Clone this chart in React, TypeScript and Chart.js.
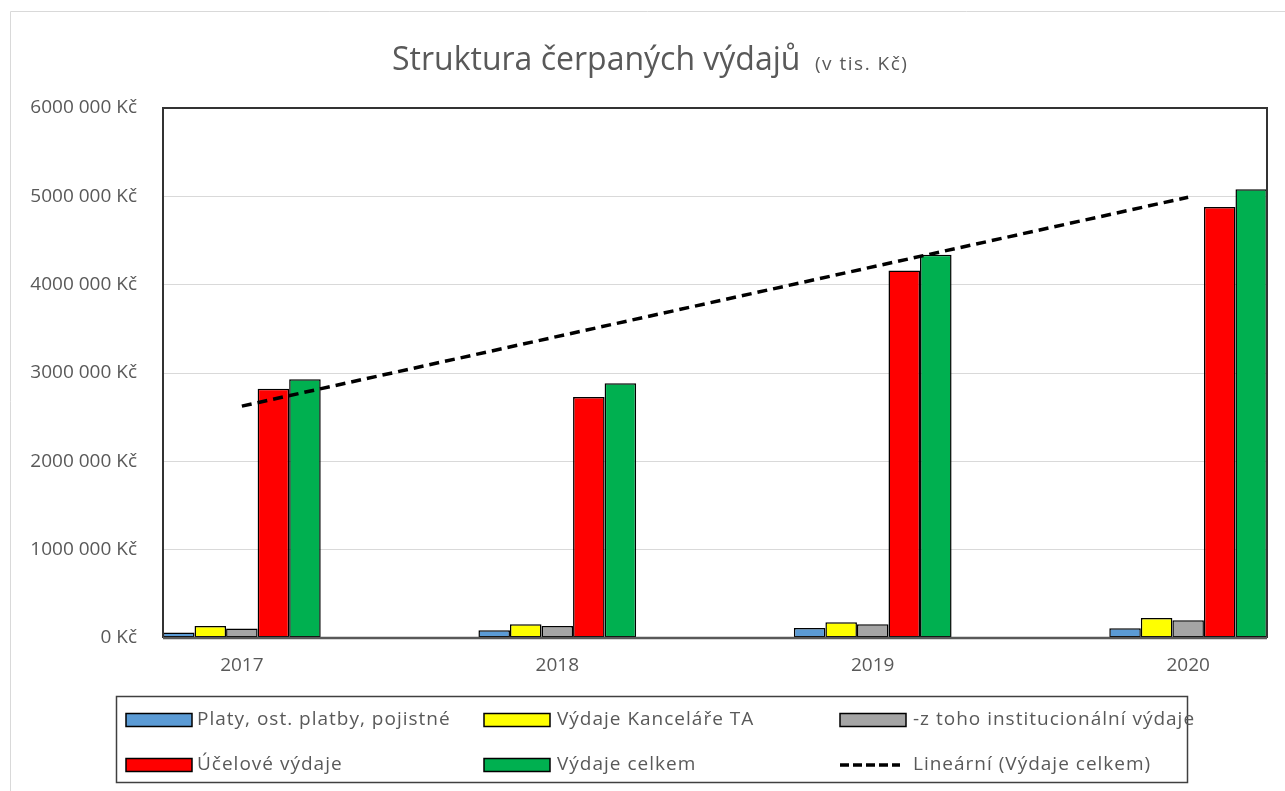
import React, { useEffect, useRef } from "react";
import { Chart, registerables } from "chart.js";

Chart.register(...registerables);

const years = [2017, 2018, 2019, 2020];
const platy = [61000, 87000, 113000, 110000];
const kancelar = [136000, 156000, 178000, 227000];
const instituc = [107000, 136000, 156000, 201000];
const ucelove = [2823000, 2727000, 4160000, 4880000];
const celkem = [2930000, 2883000, 4340000, 5080000];
const trendYears = [2017, 2020];
const trendValues = [2625000, 4990000];
const yTicks = [0, 1000000, 2000000, 3000000, 4000000, 5000000, 6000000];

const seriesNames = [
  "Platy, ost. platby, pojistné",
  "Výdaje Kanceláře TA",
  "-z toho institucionální výdaje",
  "Účelové výdaje",
  "Výdaje celkem",
  "Lineární (Výdaje celkem)",
];
const colors = ["#5B9BD5", "#FFFF00", "#A5A5A5", "#FF0000", "#00B050"];

const FONT = "'Open Sans', 'Noto Sans', sans-serif";
const TEXT = "#595959";

function fmtKc(v: number) {
  if (v === 0) return "0 Kč";
  return `${v / 1000} 000 Kč`;
}

const decorPlugin = {
  id: "decor",
  beforeDraw(chart: any) {
    const ctx = chart.ctx;
    ctx.save();
    ctx.strokeStyle = "#d9d9d9";
    ctx.lineWidth = 1;
    ctx.beginPath();
    ctx.moveTo(10.5, 791);
    ctx.lineTo(10.5, 11.5);
    ctx.lineTo(1285, 11.5);
    ctx.stroke();
    ctx.restore();
  },
  afterDatasetsDraw(chart: any) {
    const ctx = chart.ctx;
    const a = chart.chartArea;
    ctx.save();
    ctx.strokeStyle = "#333333";
    ctx.lineWidth = 2;
    ctx.beginPath();
    ctx.moveTo(a.left, a.bottom);
    ctx.lineTo(a.left, a.top);
    ctx.lineTo(a.right, a.top);
    ctx.lineTo(a.right, a.bottom);
    ctx.stroke();
    ctx.strokeStyle = "#595959";
    ctx.lineWidth = 2.5;
    ctx.beginPath();
    ctx.moveTo(a.left, a.bottom);
    ctx.lineTo(a.right, a.bottom);
    ctx.stroke();
    ctx.restore();
  },
  afterDraw(chart: any) {
    const ctx = chart.ctx;
    ctx.save();
    // title
    ctx.fillStyle = TEXT;
    ctx.textBaseline = "alphabetic";
    ctx.textAlign = "left";
    const main = "Struktura čerpaných výdajů";
    const sub = "(v tis. Kč)";
    ctx.font = `32px ${FONT}`;
    ctx.fillText(main, 392, 70);
    ctx.font = `19px ${FONT}`;
    (ctx as any).letterSpacing = "1.5px";
    ctx.fillText(sub, 815, 70);
    (ctx as any).letterSpacing = "0px";

    // legend box
    ctx.strokeStyle = "#404040";
    ctx.lineWidth = 1.5;
    ctx.strokeRect(116.5, 696.5, 1071, 86);
    const cols = [126, 484, 840];
    const textX = [197, 557, 913];
    const rows = [720, 765];
    ctx.font = `19px ${FONT}`;
    ctx.textBaseline = "middle";
    for (let i = 0; i < 6; i++) {
      const c = i % 3;
      const r = Math.floor(i / 3);
      const x = cols[c];
      const y = rows[r];
      if (i < 5) {
        ctx.fillStyle = colors[i];
        ctx.fillRect(x, y - 6.5, 66, 13);
        ctx.strokeStyle = "#000";
        ctx.lineWidth = 1.5;
        ctx.strokeRect(x, y - 6.5, 66, 13);
      } else {
        ctx.strokeStyle = "#000";
        ctx.lineWidth = 3.5;
        ctx.setLineDash([9, 4]);
        ctx.beginPath();
        ctx.moveTo(x, y);
        ctx.lineTo(x + 60, y);
        ctx.stroke();
        ctx.setLineDash([]);
      }
      ctx.fillStyle = TEXT;
      (ctx as any).letterSpacing = "1px";
      ctx.fillText(seriesNames[i], textX[c], y);
      (ctx as any).letterSpacing = "0px";
    }
    ctx.restore();
  },
};

export default function App() {
  const ref = useRef<HTMLCanvasElement | null>(null);
  useEffect(() => {
    if (!ref.current) return;
    const barSets = [platy, kancelar, instituc, ucelove, celkem].map((vals, i) => ({
      type: "bar" as const,
      label: seriesNames[i],
      data: years.map((yr, j) => ({ x: yr, y: vals[j] })),
      backgroundColor: colors[i],
      borderColor: "#000",
      borderWidth: 1.5,
      borderSkipped: false,
      categoryPercentage: 0.5,
      barPercentage: 1,
      order: 1,
    }));
    const chart = new Chart(ref.current, {
      type: "bar",
      data: {
        datasets: [
          ...barSets,
          {
            type: "line" as const,
            label: seriesNames[5],
            data: trendYears.map((yr, j) => ({ x: yr, y: trendValues[j] })),
            borderColor: "#000",
            borderWidth: 3.5,
            borderDash: [10, 6],
            pointRadius: 0,
            fill: false,
            order: 0,
          } as any,
        ],
      },
      options: {
        animation: false,
        responsive: false,
        maintainAspectRatio: false,
        layout: { padding: { left: 0, top: 108, right: 18, bottom: 0 } },
        plugins: {
          legend: { display: false },
          title: { display: false },
          tooltip: { enabled: false },
        },
        scales: {
          x: {
            type: "linear",
            offset: false,
            min: 2016.75,
            max: 2020.25,
            grid: { display: false, drawTicks: false, offset: false },
            border: { display: false },
            afterBuildTicks: (scale: any) => {
              scale.ticks = years.map((v) => ({ value: v }));
            },
            afterFit: (scale: any) => {
              scale.height = 791 - 638;
            },
            ticks: {
              padding: 16,
              color: TEXT,
              font: { family: FONT, size: 19 },
              callback: (v: any) => String(v),
              maxRotation: 0,
              autoSkip: false,
            },
          },
          y: {
            min: 0,
            max: 6000000,
            grid: { color: "#d9d9d9", lineWidth: 1, drawTicks: false },
            border: { display: false },
            afterBuildTicks: (scale: any) => {
              scale.ticks = yTicks.map((v) => ({ value: v }));
            },
            afterFit: (scale: any) => {
              scale.width = 163;
            },
            ticks: {
              padding: 26,
              color: TEXT,
              font: { family: FONT, size: 19 },
              callback: (v: any) => fmtKc(Number(v)),
            },
          },
        },
      },
      plugins: [decorPlugin],
    });
    return () => chart.destroy();
  }, []);
  return (
    <div style={{ position: "absolute", left: 0, top: 0, width: 1285, height: 791, background: "#fff" }}>
      <canvas ref={ref} width={1285} height={791} style={{ width: 1285, height: 791, display: "block" }} />
    </div>
  );
}
